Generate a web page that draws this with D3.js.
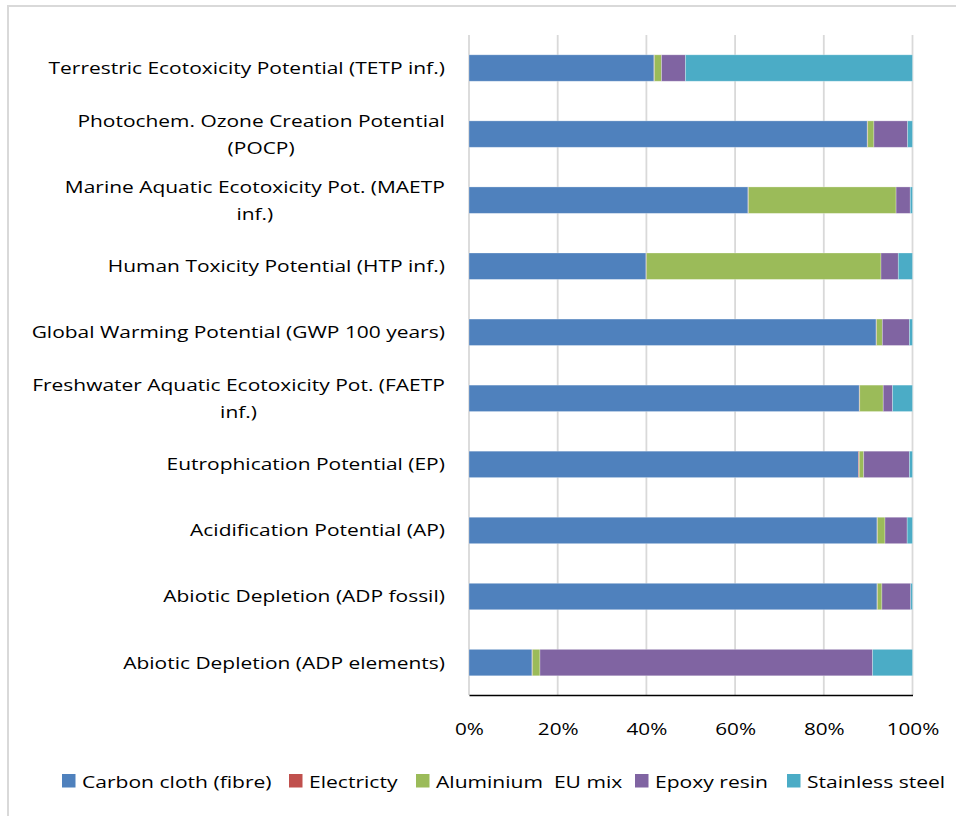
<!DOCTYPE html>
<html><head><meta charset="utf-8">
<script src="https://cdn.jsdelivr.net/npm/d3@7"></script>
<style>body{margin:0;background:#fff}svg{display:block}</style>
</head><body>
<svg id="chart" width="956" height="816"></svg>
<script>
// Categories, top to bottom as shown
const categories = [
  "Terrestric Ecotoxicity Potential (TETP inf.)",
  "Photochem. Ozone Creation Potential\n(POCP)",
  "Marine Aquatic Ecotoxicity Pot. (MAETP\ninf.)",
  "Human Toxicity Potential (HTP inf.)",
  "Global Warming Potential (GWP 100 years)",
  "Freshwater Aquatic Ecotoxicity Pot. (FAETP\ninf.)",
  "Eutrophication Potential (EP)",
  "Acidification Potential (AP)",
  "Abiotic Depletion (ADP fossil)",
  "Abiotic Depletion (ADP elements)"
];
const seriesNames = ["Carbon cloth (fibre)", "Electricty", "Aluminium  EU mix", "Epoxy resin", "Stainless steel"];
const seriesColors = ["#4f81bd", "#c0504d", "#9bbb59", "#8064a2", "#4bacc6"];
// shares in percent, same order as categories
const carbonCloth   = [41.7, 89.8, 62.9, 39.9, 91.8, 88.0, 87.8, 92.0, 92.0, 14.2];
const electricity   = [ 0.1,  0.1,  0.1,  0.1,  0.1,  0.1,  0.2,  0.1,  0.1,  0.1];
const aluminium     = [ 1.6,  1.4, 33.3, 52.9,  1.3,  5.3,  1.0,  1.7,  1.0,  1.7];
const epoxyResin    = [ 5.4,  7.6,  3.2,  3.9,  6.1,  2.1, 10.3,  5.0,  6.5, 75.0];
const stainlessSteel= [51.2,  1.1,  0.5,  3.2,  0.7,  4.5,  0.7,  1.2,  0.4,  9.0];
const tickValues = [0, 0.2, 0.4, 0.6, 0.8, 1.0];

const seriesValues = [carbonCloth, electricity, aluminium, epoxyResin, stainlessSteel];
const rows = categories.map((c, i) => {
  const r = {cat: c};
  seriesNames.forEach((s, j) => r[s] = seriesValues[j][i]);
  return r;
});
const stacked = d3.stack().keys(seriesNames).offset(d3.stackOffsetExpand)(rows);

const svg = d3.select("#chart");
const FONT = "'Open Sans', sans-serif";

// outer chart border
svg.append("rect").attr("x", 8).attr("y", 6).attr("width", 960).attr("height", 830)
  .attr("fill", "none").attr("stroke", "#d9d9d9").attr("stroke-width", 2);

const x = d3.scaleLinear().domain([0, 1]).range([469, 912.5]);
const y = d3.scaleBand().domain(categories).range([35, 695.6]).paddingInner(0.6).paddingOuter(0.3);

// gridlines
svg.append("g").selectAll("line").data(tickValues).join("line")
  .attr("x1", d => x(d)).attr("x2", d => x(d))
  .attr("y1", 35).attr("y2", 695)
  .attr("stroke", "#d9d9d9").attr("stroke-width", 1.8);

// bars
svg.append("g").selectAll("g").data(stacked).join("g")
  .attr("fill", (d, i) => seriesColors[i])
  .selectAll("rect").data(d => d).join("rect")
  .attr("x", d => x(d[0]))
  .attr("width", d => Math.max(0, x(d[1]) - x(d[0])))
  .attr("y", d => y(d.data.cat))
  .attr("height", y.bandwidth())
  .attr("stroke", "rgba(255,255,255,0.35)").attr("stroke-width", 0.8);

// x axis
const xAxis = d3.axisBottom(x).tickValues(tickValues).tickFormat(d3.format(".0%")).tickSize(0).tickPadding(28);
const gx = svg.append("g").attr("transform", "translate(0,695)").call(xAxis);
gx.select(".domain").attr("stroke", "#000").attr("stroke-width", 1.6);
gx.selectAll("text").attr("font-family", FONT).attr("font-size", 17).attr("fill", "#000")
  .attr("transform", "scale(1.22,1)");

// y axis labels (multi-line, centred lines, right-aligned block)
const yAxis = d3.axisLeft(y).tickSize(0).tickFormat("");
const gy = svg.append("g").attr("transform", "translate(469,0)").call(yAxis);
gy.select(".domain").remove();
const lineH = 27;
const labelSx = 1.27;
categories.forEach(c => {
  const lines = c.split("\n");
  const cy = y(c) + y.bandwidth() / 2;
  const t = svg.append("text").attr("font-family", FONT).attr("font-size", 16.5).attr("fill", "#000");
  const firstBase = cy + 6 - (lines.length - 1) * lineH / 2;
  lines.forEach((ln, k) => {
    t.append("tspan").attr("x", 0).attr("text-anchor", "middle").attr("y", firstBase + k * lineH).text(ln);
  });
  const widths = [];
  t.selectAll("tspan").each(function () { widths.push(this.getComputedTextLength()); });
  const maxW = d3.max(widths) * labelSx;
  t.attr("transform", `translate(${445 - maxW / 2},0) scale(${labelSx},1)`);
});

// legend
const legendX = [62, 289, 416, 635, 787];
const legendSx = 1.24;
const lg = svg.append("g");
seriesNames.forEach((s, i) => {
  lg.append("rect").attr("x", legendX[i]).attr("y", 774).attr("width", 13.5).attr("height", 13.5).attr("fill", seriesColors[i]);
  lg.append("text").attr("x", 0).attr("y", 788).attr("font-family", FONT).attr("font-size", 17)
    .attr("transform", `translate(${legendX[i] + 20},0) scale(${legendSx},1)`)
    .attr("fill", "#000").attr("xml:space", "preserve").style("white-space", "pre").text(s);
});
</script>
</body></html>
